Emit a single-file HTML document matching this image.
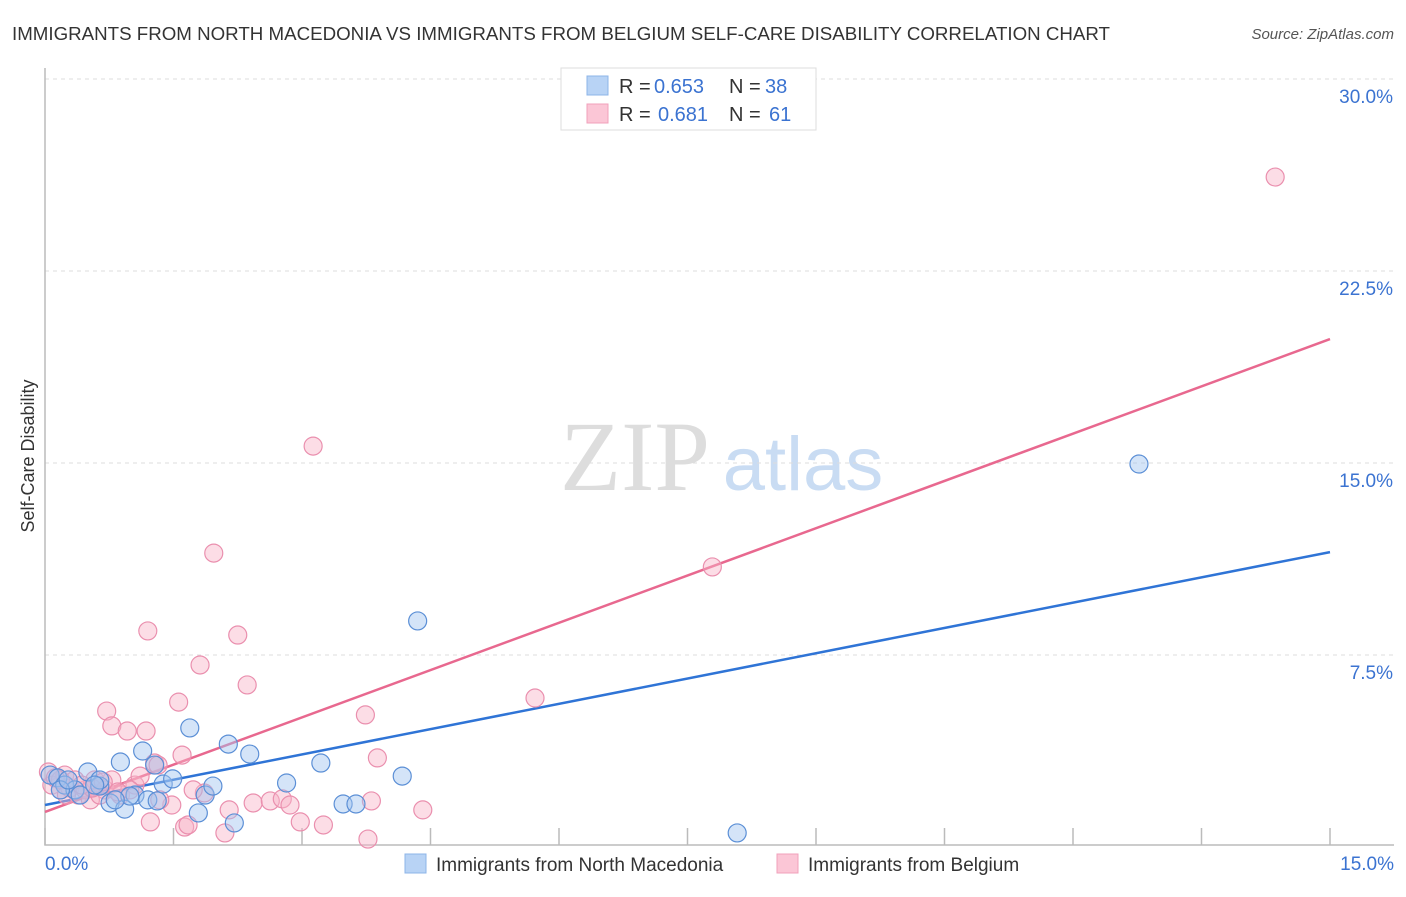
<!DOCTYPE html>
<html><head><meta charset="utf-8"><style>
body{margin:0;background:#fff;font-family:"Liberation Sans",sans-serif;}
svg text{font-family:"Liberation Sans",sans-serif;}
</style></head><body>
<svg id="chart" width="1406" height="892" xmlns="http://www.w3.org/2000/svg">
<text x="12" y="40" font-size="18" fill="#333" textLength="1098" lengthAdjust="spacingAndGlyphs">IMMIGRANTS FROM NORTH MACEDONIA VS IMMIGRANTS FROM BELGIUM SELF-CARE DISABILITY CORRELATION CHART</text>
<text x="1394" y="39" font-size="15" fill="#555" font-style="italic" text-anchor="end">Source: ZipAtlas.com</text>
<text x="34" y="456" font-size="18" fill="#333" text-anchor="middle" transform="rotate(-90 34 456)">Self-Care Disability</text>
<g><text x="635" y="490" font-size="100" fill="#ddd" text-anchor="middle" style="font-family:'Liberation Serif',serif">ZIP</text><text x="803" y="490" font-size="76" fill="#c9dcf3" text-anchor="middle">atlas</text></g>
<g id="grid"></g><g id="axes"></g><g id="lines"></g><g id="pts"></g>
<g>
<rect x="561" y="68" width="255" height="62" fill="#fff" stroke="#ddd"/>
<rect x="587" y="76" width="21" height="19" fill="#b8d3f5" stroke="#8db4e8"/>
<rect x="587" y="104" width="21" height="19" fill="#fbc6d6" stroke="#f0a0bb"/>
<g font-size="20"><text x="619" y="93" fill="#333">R =</text><text x="654" y="93" fill="#3b73d1">0.653</text><text x="729" y="93" fill="#333">N =</text><text x="765" y="93" fill="#3b73d1">38</text></g>
<g font-size="20"><text x="619" y="121" fill="#333">R =</text><text x="658" y="121" fill="#3b73d1">0.681</text><text x="729" y="121" fill="#333">N =</text><text x="769" y="121" fill="#3b73d1">61</text></g>
</g>
<g>
<rect x="405" y="854" width="21" height="19" fill="#b8d3f5" stroke="#8db4e8"/>
<text x="436" y="871" font-size="19" fill="#333">Immigrants from North Macedonia</text>
<rect x="777" y="854" width="21" height="19" fill="#fbc6d6" stroke="#f0a0bb"/>
<text x="808" y="871" font-size="19" fill="#333">Immigrants from Belgium</text>
</g>
</svg>
<script>
const yTicks=[7.5,15,22.5,30];
const yTickLabels=["7.5%","15.0%","22.5%","30.0%"];
const xTickVals=[0,1.5,3,4.5,6,7.5,9,10.5,12,13.5,15];
const blueX=[.06,.15,.23,.5,.35,.64,.88,1.14,.76,.93,1.05,1.2,1.31,1.38,1.49,1.69,1.79,1.87,1.96,2.14,2.21,2.39,2.82,3.22,3.48,3.63,4.17,4.35,8.08,12.77,1.28,.64,.18,.41,.99,.58,.82,.27];
const blueY=[2.81,2.7,2.42,2.93,2.23,2.38,3.32,3.75,1.72,1.48,2.03,1.84,1.8,2.46,2.66,4.65,1.33,2.03,2.38,4.02,.94,3.63,2.5,3.28,1.68,1.68,2.77,8.83,.55,14.96,3.2,2.62,2.23,2.03,1.99,2.42,1.84,2.62];
const pinkX=[.04,.08,.18,.29,.39,.47,.58,.7,.78,.88,.53,.72,.78,.96,1.18,1.2,1.23,1.28,1.32,1.05,1.11,1.48,1.56,1.6,1.63,1.67,1.81,1.86,1.97,2.1,2.15,2.25,2.36,2.43,2.63,2.77,2.86,2.98,3.13,3.25,3.74,3.77,3.81,3.88,4.41,5.72,7.79,14.36,.23,.35,.64,.99,.18,.12,.55,.85,.68,.25,.43,1.34,1.73];
const pinkY=[2.93,2.42,2.23,2.3,2.03,2.23,2.62,2.23,2.62,2.03,1.84,5.31,4.73,4.53,4.53,8.44,.98,3.28,3.2,2.42,2.77,1.64,5.66,3.59,.78,.86,7.11,2.11,11.48,.55,1.45,8.28,6.33,1.72,1.8,1.88,1.64,.98,15.66,.86,5.16,.31,1.8,3.48,1.45,5.82,10.94,26.17,2.81,2.62,2.03,2.23,2.62,2.7,2.3,2.15,2.54,2.03,2.42,1.84,2.23];
const blueTrend=[1.64,11.52];
const pinkTrend=[1.37,19.84];
const X=v=>45+v*(1285/15), Y=v=>847-v*25.6;
const NS="http://www.w3.org/2000/svg";
function mk(t,a,p){const e=document.createElementNS(NS,t);for(const k in a)e.setAttribute(k,a[k]);p.appendChild(e);return e;}
const grid=document.getElementById('grid'),axes=document.getElementById('axes'),lines=document.getElementById('lines'),pts=document.getElementById('pts');
yTicks.forEach((t,i)=>{
 const l=mk('line',{x1:45,x2:1394,y1:Y(t),y2:Y(t),stroke:'#ddd','stroke-dasharray':'4 4'},grid);
 
 
 const tx=mk('text',{x:1393,y:Y(t)+24,'font-size':19,fill:'#3b73d1','text-anchor':'end'},axes);
 tx.textContent=yTickLabels[i];
 
 
});
const ax=mk('path',{d:`M45 68 V845 H1394`,fill:'none',stroke:'#bbb','stroke-width':1.5},axes);


xTickVals.forEach(t=>{
 const l=mk('line',{x1:X(t),x2:X(t),y1:845,y2:828,stroke:'#bbb','stroke-width':1.5},axes);
 
 
});
[[0,'0.0%','start',45],[15,'15.0%','end',1394]].forEach(d=>{
 const tx=mk('text',{x:d[3],y:870,'font-size':19,fill:'#3b73d1','text-anchor':d[2]},axes);
 tx.textContent=d[1];
 
 
});
function dots(xs,ys,fill,stroke,name){xs.forEach((x,i)=>{
 const c=mk('circle',{cx:X(x),cy:Y(ys[i]),r:9,fill:fill,stroke:stroke,'stroke-width':1.2},pts);
 
 
});}
dots(pinkX,pinkY,'rgba(248,180,200,0.45)','#ea8fae','belgium-point');
dots(blueX,blueY,'rgba(160,196,240,0.45)','#5b8fd6','north-macedonia-point');
const lb=mk('line',{x1:X(0),y1:Y(blueTrend[0]),x2:X(15),y2:Y(blueTrend[1]),stroke:'#2f74d6','stroke-width':2.5},lines);


const lp=mk('line',{x1:X(0),y1:Y(pinkTrend[0]),x2:X(15),y2:Y(pinkTrend[1]),stroke:'#e8688f','stroke-width':2.5},lines);


</script>
</body></html>
